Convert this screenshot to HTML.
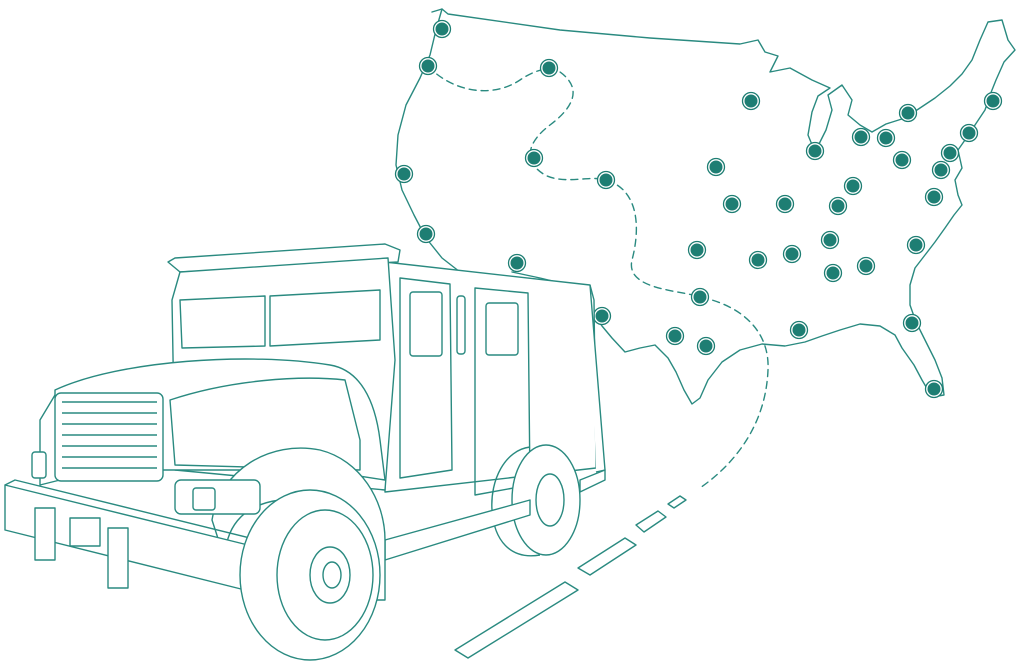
<!DOCTYPE html>
<html><head><meta charset="utf-8"><style>
html,body{margin:0;padding:0;background:#fff;}
svg{display:block;}
</style></head><body>
<svg width="1025" height="664" viewBox="0 0 1025 664" xmlns="http://www.w3.org/2000/svg">
<g fill="none" stroke="#2a8a80" stroke-width="1.4" stroke-linejoin="round" stroke-linecap="round">
<!-- US map -->
<path d="M432,12 L442,9 L448,14 L560,30 L650,38 L740,44 L758,40 L765,52 L778,56 L770,72 L790,68 L812,80 L830,88 L818,96 L812,112 L808,135 L815,152 L826,130 L832,110 L828,95 L842,85 L852,100 L848,115 L860,125 L872,132 L886,124 L905,118 L920,108 L935,98 L950,86 L962,74 L972,60 L980,40 L988,22 L1002,20 L1008,40 L1015,50 L1004,62 L996,80 L990,95 L985,110 L975,125 L965,140 L958,150 L962,168 L955,180 L958,195 L962,205 L954,215 L945,228 L935,242 L925,255 L915,268 L910,285 L910,305 L916,322 L925,340 L935,360 L942,378 L944,395 L932,397 L922,380 L914,365 L902,348 L895,335 L880,326 L860,324 L840,330 L822,336 L805,342 L785,346 L762,344 L740,350 L722,362 L708,380 L700,398 L692,404 L684,390 L676,372 L668,358 L655,345 L640,348 L625,352 L612,338 L602,326 L592,312"/>
<path d="M442,9 L436,30 L430,55 L420,78 L406,105 L398,135 L396,165 L402,190 L414,215 L426,238 L442,258 L460,272"/>
<path d="M512,272 L540,278 L590,290"/>
<!-- dashed route -->
<path d="M428,66 C450,90 490,100 520,80 C535,70 548,66 560,72 C585,90 570,110 550,125 C530,140 520,160 545,175 C565,185 590,175 606,180 C640,190 640,230 632,260 C625,290 680,290 700,297 C740,305 770,330 768,370 C766,420 740,460 700,488" stroke-dasharray="7,5"/>
<!-- road dashes -->
<path d="M455,650 L565,582 L578,590 L468,658 Z"/>
<path d="M578,568 L625,538 L636,545 L590,575 Z"/>
<path d="M636,525 L658,511 L666,517 L644,532 Z"/>
<path d="M668,504 L680,496 L686,500 L674,508 Z"/>
</g>
<!-- dots -->
<g fill="#1e7e73" stroke="#1e7e73">
<g id="d">
</g>
</g>
<g stroke="#1e7e73" stroke-width="1.3">
<circle cx="442" cy="29" r="8.5" fill="#fff"/><circle cx="428" cy="66" r="8.5" fill="#fff"/><circle cx="549" cy="68" r="8.5" fill="#fff"/><circle cx="751" cy="101" r="8.5" fill="#fff"/><circle cx="993" cy="101" r="8.5" fill="#fff"/><circle cx="908" cy="113" r="8.5" fill="#fff"/><circle cx="969" cy="133" r="8.5" fill="#fff"/><circle cx="861" cy="137" r="8.5" fill="#fff"/><circle cx="886" cy="138" r="8.5" fill="#fff"/><circle cx="815" cy="151" r="8.5" fill="#fff"/><circle cx="950" cy="153" r="8.5" fill="#fff"/><circle cx="902" cy="160" r="8.5" fill="#fff"/><circle cx="716" cy="167" r="8.5" fill="#fff"/><circle cx="941" cy="170" r="8.5" fill="#fff"/><circle cx="534" cy="158" r="8.5" fill="#fff"/><circle cx="606" cy="180" r="8.5" fill="#fff"/><circle cx="853" cy="186" r="8.5" fill="#fff"/><circle cx="404" cy="174" r="8.5" fill="#fff"/><circle cx="732" cy="204" r="8.5" fill="#fff"/><circle cx="785" cy="204" r="8.5" fill="#fff"/><circle cx="838" cy="206" r="8.5" fill="#fff"/><circle cx="934" cy="197" r="8.5" fill="#fff"/><circle cx="426" cy="234" r="8.5" fill="#fff"/><circle cx="517" cy="263" r="8.5" fill="#fff"/><circle cx="697" cy="250" r="8.5" fill="#fff"/><circle cx="830" cy="240" r="8.5" fill="#fff"/><circle cx="916" cy="245" r="8.5" fill="#fff"/><circle cx="758" cy="260" r="8.5" fill="#fff"/><circle cx="792" cy="254" r="8.5" fill="#fff"/><circle cx="866" cy="266" r="8.5" fill="#fff"/><circle cx="833" cy="273" r="8.5" fill="#fff"/><circle cx="700" cy="297" r="8.5" fill="#fff"/><circle cx="602" cy="316" r="8.5" fill="#fff"/><circle cx="675" cy="336" r="8.5" fill="#fff"/><circle cx="706" cy="346" r="8.5" fill="#fff"/><circle cx="799" cy="330" r="8.5" fill="#fff"/><circle cx="912" cy="323" r="8.5" fill="#fff"/><circle cx="934" cy="389" r="8.5" fill="#fff"/>
</g>
<g fill="#1e7e73">
<circle cx="442" cy="29" r="6.5"/><circle cx="428" cy="66" r="6.5"/><circle cx="549" cy="68" r="6.5"/><circle cx="751" cy="101" r="6.5"/><circle cx="993" cy="101" r="6.5"/><circle cx="908" cy="113" r="6.5"/><circle cx="969" cy="133" r="6.5"/><circle cx="861" cy="137" r="6.5"/><circle cx="886" cy="138" r="6.5"/><circle cx="815" cy="151" r="6.5"/><circle cx="950" cy="153" r="6.5"/><circle cx="902" cy="160" r="6.5"/><circle cx="716" cy="167" r="6.5"/><circle cx="941" cy="170" r="6.5"/><circle cx="534" cy="158" r="6.5"/><circle cx="606" cy="180" r="6.5"/><circle cx="853" cy="186" r="6.5"/><circle cx="404" cy="174" r="6.5"/><circle cx="732" cy="204" r="6.5"/><circle cx="785" cy="204" r="6.5"/><circle cx="838" cy="206" r="6.5"/><circle cx="934" cy="197" r="6.5"/><circle cx="426" cy="234" r="6.5"/><circle cx="517" cy="263" r="6.5"/><circle cx="697" cy="250" r="6.5"/><circle cx="830" cy="240" r="6.5"/><circle cx="916" cy="245" r="6.5"/><circle cx="758" cy="260" r="6.5"/><circle cx="792" cy="254" r="6.5"/><circle cx="866" cy="266" r="6.5"/><circle cx="833" cy="273" r="6.5"/><circle cx="700" cy="297" r="6.5"/><circle cx="602" cy="316" r="6.5"/><circle cx="675" cy="336" r="6.5"/><circle cx="706" cy="346" r="6.5"/><circle cx="799" cy="330" r="6.5"/><circle cx="912" cy="323" r="6.5"/><circle cx="934" cy="389" r="6.5"/>
</g>
<!-- truck -->
<g fill="#fff" stroke="#2a8a80" stroke-width="1.4" stroke-linejoin="round">
<!-- cargo box -->
<path d="M385,262 L590,285 L594,300 L596,468 L385,492 Z"/>
<path d="M590,285 L605,470 L596,472"/>
<path d="M475,288 L528,293 L530,485 L475,495 Z" fill="none"/>
<rect x="486" y="303" width="32" height="52" rx="3"/>
<path d="M400,278 L450,284 L452,470 L400,478 Z" fill="none"/>
<rect x="410" y="292" width="32" height="64" rx="3"/>
<rect x="457" y="296" width="8" height="58" rx="3"/>
<!-- rear wheel -->
<ellipse cx="546" cy="500" rx="34" ry="55"/>
<ellipse cx="550" cy="500" rx="14" ry="26"/>
<path d="M530,447 C505,450 490,480 492,510 C494,540 510,560 540,555" fill="none"/>
<!-- chassis -->
<path d="M385,540 L530,500 L530,515 L385,560 Z"/>
<path d="M580,480 L605,470 L605,480 L580,492 Z"/>
<!-- cab roof -->
<path d="M168,262 L175,258 L385,244 L400,250 L398,262 L180,272 Z"/>
<!-- cab -->
<path d="M180,272 L388,258 L395,360 L385,490 L175,470 L172,300 Z"/>
<path d="M180,300 L265,296 L265,346 L182,348 Z"/>
<path d="M270,296 L380,290 L380,340 L270,346 Z"/>
<!-- hood -->
<path d="M55,390 C120,360 250,352 330,365 C360,370 375,400 380,440 L385,480 L320,470 L210,470 L55,470 Z"/>
<path d="M170,400 C230,380 300,375 345,380 L360,440 L360,470 L175,465 Z" fill="none"/>
<path d="M40,420 L55,395 L60,480 L40,485 Z"/>
<!-- grille -->
<rect x="55" y="393" width="108" height="88" rx="6"/>
<g fill="none"><path d="M62,402 H157 M62,413 H157 M62,424 H157 M62,435 H157 M62,446 H157 M62,457 H157 M62,468 H157"/></g>
<rect x="32" y="452" width="14" height="26" rx="3"/>
<!-- fender -->
<path d="M212,520 C220,470 270,440 320,450 C360,460 385,500 385,540 L385,600 L360,600 C360,530 320,495 280,500 C240,505 225,530 225,560 Z"/>
<rect x="175" y="480" width="85" height="34" rx="6"/>
<rect x="193" y="488" width="22" height="22" rx="3"/>
<!-- bumper -->
<path d="M5,485 L248,545 L258,550 L258,590 L245,590 L5,530 Z"/>
<path d="M5,485 L15,480 L258,540" fill="none"/>
<rect x="35" y="508" width="20" height="52"/>
<rect x="108" y="528" width="20" height="60"/>
<rect x="70" y="518" width="30" height="28"/>
<!-- front wheel -->
<ellipse cx="310" cy="575" rx="70" ry="85"/>
<ellipse cx="325" cy="575" rx="48" ry="65"/>
<ellipse cx="330" cy="575" rx="20" ry="28"/>
<ellipse cx="332" cy="575" rx="9" ry="13"/>
</g>
</svg>
</body></html>
